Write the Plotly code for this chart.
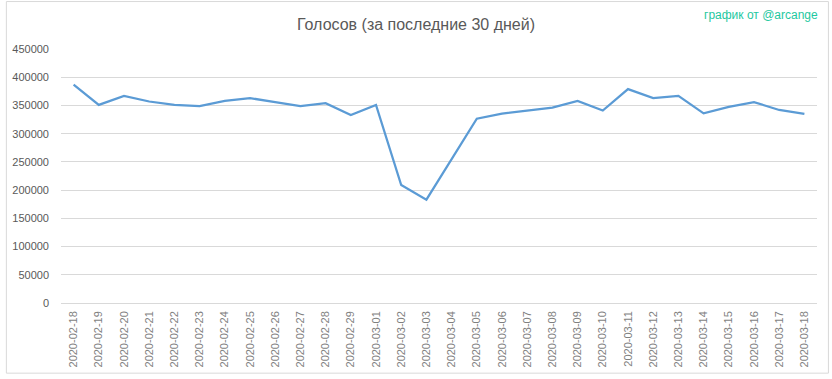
import plotly.graph_objects as go

dates = ["2020-02-18", "2020-02-19", "2020-02-20", "2020-02-21", "2020-02-22", "2020-02-23",
         "2020-02-24", "2020-02-25", "2020-02-26", "2020-02-27", "2020-02-28", "2020-02-29",
         "2020-03-01", "2020-03-02", "2020-03-03", "2020-03-04", "2020-03-05", "2020-03-06",
         "2020-03-07", "2020-03-08", "2020-03-09", "2020-03-10", "2020-03-11", "2020-03-12",
         "2020-03-13", "2020-03-14", "2020-03-15", "2020-03-16", "2020-03-17", "2020-03-18"]
votes = [387000, 351000, 367000, 357000, 351000, 349000,
         358000, 363000, 356000, 349000, 354000, 333000,
         351000, 209000, 183000, 255000, 326500, 335500,
         341000, 346000, 358000, 341000, 379000, 363000,
         367000, 336000, 347500, 356000, 342000, 335000]
y_ticks = [0, 50000, 100000, 150000, 200000, 250000, 300000, 350000, 400000, 450000]

title_text = "Голосов (за последние 30 дней)"
credit_text = "график от @arcange"

W, H = 832, 379
L, R, T, B = 56, 15, 49, 73
pw, ph = W - L - R, H - T - B

fig = go.Figure()
fig.add_trace(go.Scatter(
    x=dates, y=votes, mode="lines",
    line=dict(color="#5b9bd5", width=2.25),
    hoverinfo="x+y", showlegend=False,
))

font_main = "Liberation Sans, Arial, sans-serif"

fig.update_layout(
    width=W, height=H,
    margin=dict(l=L, r=R, t=T, b=B, pad=0),
    paper_bgcolor="white", plot_bgcolor="white",
    title=dict(text=title_text, x=0.5, xanchor="center", xref="container",
               y=1 - 24 / H, yanchor="middle",
               font=dict(family=font_main, size=16, color="#595959")),
    xaxis=dict(type="category", range=[-0.5, len(dates) - 0.5],
               tickangle=-90, showgrid=False, showline=False, zeroline=False,
               ticks="", tickfont=dict(family=font_main, size=11, color="#7f7f7f"),
               ticklabelstandoff=5),
    yaxis=dict(range=[0, 450000], tickvals=y_ticks, ticktext=[str(v) for v in y_ticks],
               showgrid=True, gridcolor="#d9d9d9", gridwidth=1,
               zeroline=True, zerolinecolor="#d9d9d9", zerolinewidth=1,
               showline=False, ticks="",
               tickfont=dict(family=font_main, size=11, color="#595959"),
               ticklabelstandoff=11),
    annotations=[dict(text=credit_text, xref="paper", yref="paper",
                      x=(W - 12 - L) / pw, y=1 + (T - 15) / ph,
                      xanchor="right", yanchor="middle", showarrow=False,
                      font=dict(family=font_main, size=12, color="#1ec8a0"))],
    shapes=[dict(type="rect", xref="paper", yref="paper",
                 x0=(1 - L) / pw, x1=(W - 3.5 - L) / pw,
                 y0=-(B - 2) / ph, y1=1 + (T - 1) / ph,
                 line=dict(color="#d9d9d9", width=1), fillcolor="rgba(0,0,0,0)",
                 layer="below")],
)

fig.write_html("out.html")
